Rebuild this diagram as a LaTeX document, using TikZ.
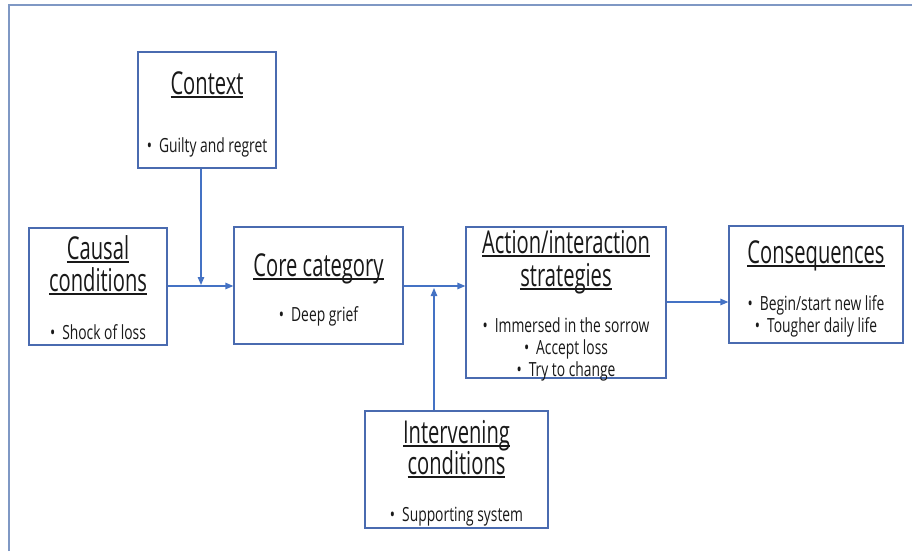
\documentclass[tikz,border=0pt]{standalone}
\usepackage{fontspec}
\setmainfont{Open Sans}
\newfontfamily\ttlfont[FakeStretch=0.64]{Open Sans}
\newfontfamily\bltfont[FakeStretch=0.71]{Open Sans}
\usetikzlibrary{arrows.meta}
\definecolor{boxblue}{HTML}{4A6BB0}
\definecolor{arrblue}{HTML}{4472C4}
\definecolor{frameblue}{HTML}{7F98C4}
\newcommand\myul[1]{\setbox0\hbox{#1}\rlap{\rule[-3.8pt]{\wd0}{1.4pt}}\box0}
\newcommand\bul[1]{\textbullet\hspace{7pt}#1}
\tikzset{
  box/.style={draw=boxblue, line width=1.3pt, rectangle, inner sep=0pt, fill=white},
  ttl/.style={font=\ttlfont\fontsize{31.5}{32}\selectfont, text=black!90, inner sep=0pt, anchor=base},
  blt/.style={font=\bltfont\fontsize{19.5}{22}\selectfont, text=black!90, inner sep=0pt, anchor=base},
  arr/.style={draw=arrblue, line width=1.3pt, -{Triangle[length=8pt,width=6.5pt]}},
  frame/.style={draw=frameblue, line width=2pt}
}
\begin{document}
\begin{tikzpicture}[x=1pt,y=-1pt]
\useasboundingbox (0,0) rectangle (912,551);
\draw[frame] (9,551) -- (9,5) -- (912,5);

% boxes
\node[box, minimum width=138pt, minimum height=116pt] (ctx) at (207,110) {};
\node[box, minimum width=138pt, minimum height=117pt] (cau) at (98,286.5) {};
\node[box, minimum width=169pt, minimum height=117pt] (core) at (318.5,285.5) {};
\node[box, minimum width=200pt, minimum height=151pt] (act) at (566,302.5) {};
\node[box, minimum width=174pt, minimum height=117pt] (cons) at (816,284.5) {};
\node[box, minimum width=183pt, minimum height=117pt] (int) at (456.5,469.5) {};

% texts
\node[ttl] (ctxT) at (207,94) {\myul{Context}};
\node[blt] (ctxB) at (207,152) {\bul{Guilty and regret}};

\node[ttl] (cauT1) at (98,259) {\myul{Causal}};
\node[ttl] (cauT2) at (98,291) {\myul{conditions}};
\node[blt] (cauB) at (98,339) {\bul{Shock of loss}};

\node[ttl] (coreT) at (318.5,276) {\myul{Core category}};
\node[blt] (coreB) at (318.5,321) {\bul{Deep grief}};

\node[ttl] (actT1) at (566,253) {\myul{Action/interaction}};
\node[ttl] (actT2) at (566,286) {\myul{strategies}};
\node[blt] (actB1) at (566,332) {\bul{Immersed in the sorrow}};
\node[blt] (actB2) at (566,354) {\bul{Accept loss}};
\node[blt] (actB3) at (566,376) {\bul{Try to change}};

\node[ttl] (consT) at (816,263) {\myul{Consequences}};
\node[blt] (consB1) at (816,310) {\bul{Begin/start new life}};
\node[blt] (consB2) at (816,332) {\bul{Tougher daily life}};

\node[ttl] (intT1) at (456.5,443) {\myul{Intervening}};
\node[ttl] (intT2) at (456.5,474) {\myul{conditions}};
\node[blt] (intB) at (456.5,521) {\bul{Supporting system}};

% connectors
\coordinate (j1) at (201,285);
\coordinate (j2) at (434,288);
\draw[arr] (cau.east |- 0,286) -- (core.west |- 0,286);
\draw[arr] (ctx.south -| j1) -- (j1);
\draw[arr] (core.east |- 0,286) -- (act.west |- 0,286);
\draw[arr] (int.north -| j2) -- (j2);
\draw[arr] (act.east |- 0,302) -- (cons.west |- 0,302);
\end{tikzpicture}
\end{document}
